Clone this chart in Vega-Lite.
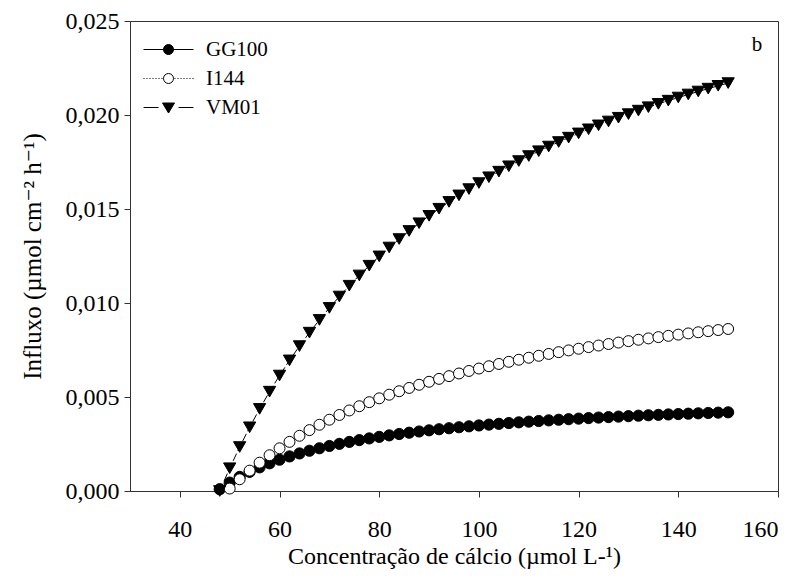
{
  "$schema": "https://vega.github.io/schema/vega-lite/v6.json",
  "width": 648,
  "height": 470,
  "autosize": {"type": "none"},
  "padding": {"left": 130, "top": 21, "right": 19, "bottom": 90},
  "background": "white",
  "config": {
    "view": {"stroke": "#333", "strokeWidth": 1},
    "font": "Liberation Serif, Times New Roman, DejaVu Serif, serif",
    "axis": {
      "labelFont": "Liberation Serif, Times New Roman, DejaVu Serif, serif",
      "titleFont": "Liberation Serif, Times New Roman, DejaVu Serif, serif",
      "labelColor": "black",
      "titleColor": "black",
      "domainColor": "#333",
      "tickColor": "#333",
      "grid": false,
      "tickSize": 6,
      "labelFontSize": 24,
      "titleFontSize": 24,
      "titleFontWeight": "normal"
    }
  },
  "datasets": {
    "influx": [
      {"s": "GG100", "x": 48, "y": 0.000095}, {"s": "GG100", "x": 50, "y": 0.000445}, {"s": "GG100", "x": 52, "y": 0.00075},
      {"s": "GG100", "x": 54, "y": 0.001019}, {"s": "GG100", "x": 56, "y": 0.001258}, {"s": "GG100", "x": 58, "y": 0.001472},
      {"s": "GG100", "x": 60, "y": 0.001665}, {"s": "GG100", "x": 62, "y": 0.001839}, {"s": "GG100", "x": 64, "y": 0.001997},
      {"s": "GG100", "x": 66, "y": 0.002141}, {"s": "GG100", "x": 68, "y": 0.002273}, {"s": "GG100", "x": 70, "y": 0.002395},
      {"s": "GG100", "x": 72, "y": 0.002507}, {"s": "GG100", "x": 74, "y": 0.002611}, {"s": "GG100", "x": 76, "y": 0.002707},
      {"s": "GG100", "x": 78, "y": 0.002797}, {"s": "GG100", "x": 80, "y": 0.00288}, {"s": "GG100", "x": 82, "y": 0.002959},
      {"s": "GG100", "x": 84, "y": 0.003032}, {"s": "GG100", "x": 86, "y": 0.003101}, {"s": "GG100", "x": 88, "y": 0.003166},
      {"s": "GG100", "x": 90, "y": 0.003227}, {"s": "GG100", "x": 92, "y": 0.003285}, {"s": "GG100", "x": 94, "y": 0.003339},
      {"s": "GG100", "x": 96, "y": 0.003391}, {"s": "GG100", "x": 98, "y": 0.00344}, {"s": "GG100", "x": 100, "y": 0.003487},
      {"s": "GG100", "x": 102, "y": 0.003531}, {"s": "GG100", "x": 104, "y": 0.003573}, {"s": "GG100", "x": 106, "y": 0.003614},
      {"s": "GG100", "x": 108, "y": 0.003652}, {"s": "GG100", "x": 110, "y": 0.003689}, {"s": "GG100", "x": 112, "y": 0.003724},
      {"s": "GG100", "x": 114, "y": 0.003757}, {"s": "GG100", "x": 116, "y": 0.00379}, {"s": "GG100", "x": 118, "y": 0.003821},
      {"s": "GG100", "x": 120, "y": 0.00385}, {"s": "GG100", "x": 122, "y": 0.003879}, {"s": "GG100", "x": 124, "y": 0.003906},
      {"s": "GG100", "x": 126, "y": 0.003932}, {"s": "GG100", "x": 128, "y": 0.003958}, {"s": "GG100", "x": 130, "y": 0.003982},
      {"s": "GG100", "x": 132, "y": 0.004006}, {"s": "GG100", "x": 134, "y": 0.004029}, {"s": "GG100", "x": 136, "y": 0.00405},
      {"s": "GG100", "x": 138, "y": 0.004072}, {"s": "GG100", "x": 140, "y": 0.004092}, {"s": "GG100", "x": 142, "y": 0.004112},
      {"s": "GG100", "x": 144, "y": 0.004131}, {"s": "GG100", "x": 146, "y": 0.00415}, {"s": "GG100", "x": 148, "y": 0.004168},
      {"s": "GG100", "x": 150, "y": 0.004185},

      {"s": "I144", "x": 50, "y": 0.00013}, {"s": "I144", "x": 52, "y": 0.000625}, {"s": "I144", "x": 54, "y": 0.001083},
      {"s": "I144", "x": 56, "y": 0.001507}, {"s": "I144", "x": 58, "y": 0.001902}, {"s": "I144", "x": 60, "y": 0.00227},
      {"s": "I144", "x": 62, "y": 0.002614}, {"s": "I144", "x": 64, "y": 0.002937}, {"s": "I144", "x": 66, "y": 0.003239},
      {"s": "I144", "x": 68, "y": 0.003524}, {"s": "I144", "x": 70, "y": 0.003792}, {"s": "I144", "x": 72, "y": 0.004045},
      {"s": "I144", "x": 74, "y": 0.004284}, {"s": "I144", "x": 76, "y": 0.00451}, {"s": "I144", "x": 78, "y": 0.004725},
      {"s": "I144", "x": 80, "y": 0.004929}, {"s": "I144", "x": 82, "y": 0.005122}, {"s": "I144", "x": 84, "y": 0.005307},
      {"s": "I144", "x": 86, "y": 0.005482}, {"s": "I144", "x": 88, "y": 0.00565}, {"s": "I144", "x": 90, "y": 0.00581},
      {"s": "I144", "x": 92, "y": 0.005964}, {"s": "I144", "x": 94, "y": 0.00611}, {"s": "I144", "x": 96, "y": 0.006251},
      {"s": "I144", "x": 98, "y": 0.006385}, {"s": "I144", "x": 100, "y": 0.006514}, {"s": "I144", "x": 102, "y": 0.006638},
      {"s": "I144", "x": 104, "y": 0.006758}, {"s": "I144", "x": 106, "y": 0.006872}, {"s": "I144", "x": 108, "y": 0.006983},
      {"s": "I144", "x": 110, "y": 0.007089}, {"s": "I144", "x": 112, "y": 0.007192}, {"s": "I144", "x": 114, "y": 0.007291},
      {"s": "I144", "x": 116, "y": 0.007386}, {"s": "I144", "x": 118, "y": 0.007479}, {"s": "I144", "x": 120, "y": 0.007568},
      {"s": "I144", "x": 122, "y": 0.007654}, {"s": "I144", "x": 124, "y": 0.007737}, {"s": "I144", "x": 126, "y": 0.007818},
      {"s": "I144", "x": 128, "y": 0.007896}, {"s": "I144", "x": 130, "y": 0.007972}, {"s": "I144", "x": 132, "y": 0.008046},
      {"s": "I144", "x": 134, "y": 0.008117}, {"s": "I144", "x": 136, "y": 0.008186}, {"s": "I144", "x": 138, "y": 0.008253},
      {"s": "I144", "x": 140, "y": 0.008318}, {"s": "I144", "x": 142, "y": 0.008382}, {"s": "I144", "x": 144, "y": 0.008443},
      {"s": "I144", "x": 146, "y": 0.008503}, {"s": "I144", "x": 148, "y": 0.008561}, {"s": "I144", "x": 150, "y": 0.008618},

      {"s": "VM01", "x": 48, "y": 0.0}, {"s": "VM01", "x": 50, "y": 0.001213}, {"s": "VM01", "x": 52, "y": 0.00234},
      {"s": "VM01", "x": 54, "y": 0.003389}, {"s": "VM01", "x": 56, "y": 0.004368}, {"s": "VM01", "x": 58, "y": 0.005284},
      {"s": "VM01", "x": 60, "y": 0.006143}, {"s": "VM01", "x": 62, "y": 0.006949}, {"s": "VM01", "x": 64, "y": 0.007708},
      {"s": "VM01", "x": 66, "y": 0.008424}, {"s": "VM01", "x": 68, "y": 0.0091}, {"s": "VM01", "x": 70, "y": 0.009739},
      {"s": "VM01", "x": 72, "y": 0.010345}, {"s": "VM01", "x": 74, "y": 0.01092}, {"s": "VM01", "x": 76, "y": 0.011466},
      {"s": "VM01", "x": 78, "y": 0.011985}, {"s": "VM01", "x": 80, "y": 0.01248}, {"s": "VM01", "x": 82, "y": 0.012952},
      {"s": "VM01", "x": 84, "y": 0.013402}, {"s": "VM01", "x": 86, "y": 0.013832}, {"s": "VM01", "x": 88, "y": 0.014243},
      {"s": "VM01", "x": 90, "y": 0.014637}, {"s": "VM01", "x": 92, "y": 0.015015}, {"s": "VM01", "x": 94, "y": 0.015377},
      {"s": "VM01", "x": 96, "y": 0.015725}, {"s": "VM01", "x": 98, "y": 0.016059}, {"s": "VM01", "x": 100, "y": 0.01638},
      {"s": "VM01", "x": 102, "y": 0.016689}, {"s": "VM01", "x": 104, "y": 0.016987}, {"s": "VM01", "x": 106, "y": 0.017273},
      {"s": "VM01", "x": 108, "y": 0.01755}, {"s": "VM01", "x": 110, "y": 0.017817}, {"s": "VM01", "x": 112, "y": 0.018075},
      {"s": "VM01", "x": 114, "y": 0.018323}, {"s": "VM01", "x": 116, "y": 0.018564}, {"s": "VM01", "x": 118, "y": 0.018797},
      {"s": "VM01", "x": 120, "y": 0.019022}, {"s": "VM01", "x": 122, "y": 0.01924}, {"s": "VM01", "x": 124, "y": 0.019451},
      {"s": "VM01", "x": 126, "y": 0.019656}, {"s": "VM01", "x": 128, "y": 0.019855}, {"s": "VM01", "x": 130, "y": 0.020047},
      {"s": "VM01", "x": 132, "y": 0.020234}, {"s": "VM01", "x": 134, "y": 0.020416}, {"s": "VM01", "x": 136, "y": 0.020592},
      {"s": "VM01", "x": 138, "y": 0.020763}, {"s": "VM01", "x": 140, "y": 0.02093}, {"s": "VM01", "x": 142, "y": 0.021092},
      {"s": "VM01", "x": 144, "y": 0.02125}, {"s": "VM01", "x": 146, "y": 0.021403}, {"s": "VM01", "x": 148, "y": 0.021553},
      {"s": "VM01", "x": 150, "y": 0.021698}
    ],
    "panel": [{"tag": "b", "x": 155.8, "y": 0.0237}]
  },
  "encoding": {
    "x": {
      "field": "x", "type": "quantitative",
      "scale": {"domain": [30, 160], "nice": false, "zero": false},
      "axis": {
        "values": [40, 60, 80, 100, 120, 140, 160],
        "labelPadding": 20,
        "title": "Concentração de cálcio (µmol L-¹)",
        "titlePadding": 3
      }
    },
    "y": {
      "field": "y", "type": "quantitative",
      "scale": {"domain": [0, 0.025], "nice": false},
      "axis": {
        "values": [0, 0.005, 0.01, 0.015, 0.02, 0.025],
        "labelExpr": "replace(format(datum.value, '.3f'), '.', ',')",
        "labelPadding": 5,
        "title": "Influxo (µmol cm⁻² h⁻¹)",
        "titleFontSize": 25,
        "titlePadding": 20
      }
    }
  },
  "layer": [
    {
      "data": {"name": "influx"},
      "transform": [{"filter": "datum.s === 'GG100'"}],
      "mark": {"type": "line", "color": "black", "strokeWidth": 1}
    },
    {
      "data": {"name": "influx"},
      "transform": [{"filter": "datum.s === 'I144'"}],
      "mark": {"type": "line", "color": "black", "strokeWidth": 1, "strokeDash": [1, 2]}
    },
    {
      "data": {"name": "influx"},
      "transform": [{"filter": "datum.s === 'VM01'"}],
      "mark": {"type": "line", "color": "black", "strokeWidth": 1, "strokeDash": [8, 3]}
    },
    {
      "data": {"name": "influx"},
      "mark": {"type": "point", "filled": true, "stroke": "black", "strokeWidth": 1, "opacity": 1},
      "encoding": {
        "size": {
          "condition": [
            {"test": "datum.s === 'I144'", "value": 120},
            {"test": "datum.s === 'VM01'", "value": 150}
          ],
          "value": 125
        },
        "fill": {
          "condition": {"test": "datum.s === 'I144'", "value": "white"},
          "value": "black"
        },
        "shape": {
          "condition": {"test": "datum.s === 'VM01'", "value": "triangle-down"},
          "value": "circle"
        }
      }
    },
    {
      "description": "Legend key: line style and marker per cultivar, drawn at zero size in the plot",
      "data": {"name": "influx"},
      "transform": [{"filter": "datum.x === 150"}],
      "mark": {"type": "point", "filled": true, "strokeWidth": 1, "opacity": 1},
      "encoding": {
        "size": {"value": 0},
        "fill": {
          "field": "s", "type": "nominal",
          "scale": {"domain": ["GG100", "I144", "VM01"], "range": ["black", "white", "black"]}
        },
        "stroke": {
          "field": "s", "type": "nominal",
          "scale": {"domain": ["GG100", "I144", "VM01"], "range": ["black", "black", "black"]}
        },
        "shape": {
          "field": "s", "type": "nominal",
          "scale": {
            "domain": ["GG100", "I144", "VM01"],
            "range": [
              "M-1,0L9,0M5,0A1,1,0,1,1,3,0A1,1,0,1,1,5,0Z",
              "M-1,0L-0.8,0M-0.4,0L-0.2,0M0.2,0L0.4,0M0.8,0L1,0M1.4,0L1.6,0M2,0L2.2,0M2.6,0L2.8,0M5.2,0L5.4,0M5.8,0L6,0M6.4,0L6.6,0M7,0L7.2,0M7.6,0L7.8,0M8.2,0L8.4,0M8.8,0L9,0M5,0A1,1,0,1,1,3,0A1,1,0,1,1,5,0Z",
              "M-1,0L2,0M6,0L9,0M2.8,-0.9L5.2,-0.9L4,1.1Z"
            ]
          },
          "legend": {
            "title": null,
            "orient": "none",
            "legendX": 8,
            "legendY": 18,
            "padding": 0,
            "symbolSize": 100,
            "symbolStrokeWidth": 1,
            "symbolOpacity": 1,
            "labelOffset": 47,
            "labelFont": "Liberation Serif, Times New Roman, DejaVu Serif, serif",
            "labelFontSize": 21,
            "labelColor": "black",
            "rowPadding": 7
          }
        }
      }
    },
    {
      "data": {"name": "panel"},
      "mark": {"type": "text", "font": "Liberation Serif, Times New Roman, DejaVu Serif, serif", "fontSize": 21, "color": "black", "align": "center", "baseline": "middle"},
      "encoding": {
        "text": {"field": "tag"}
      }
    }
  ]
}
